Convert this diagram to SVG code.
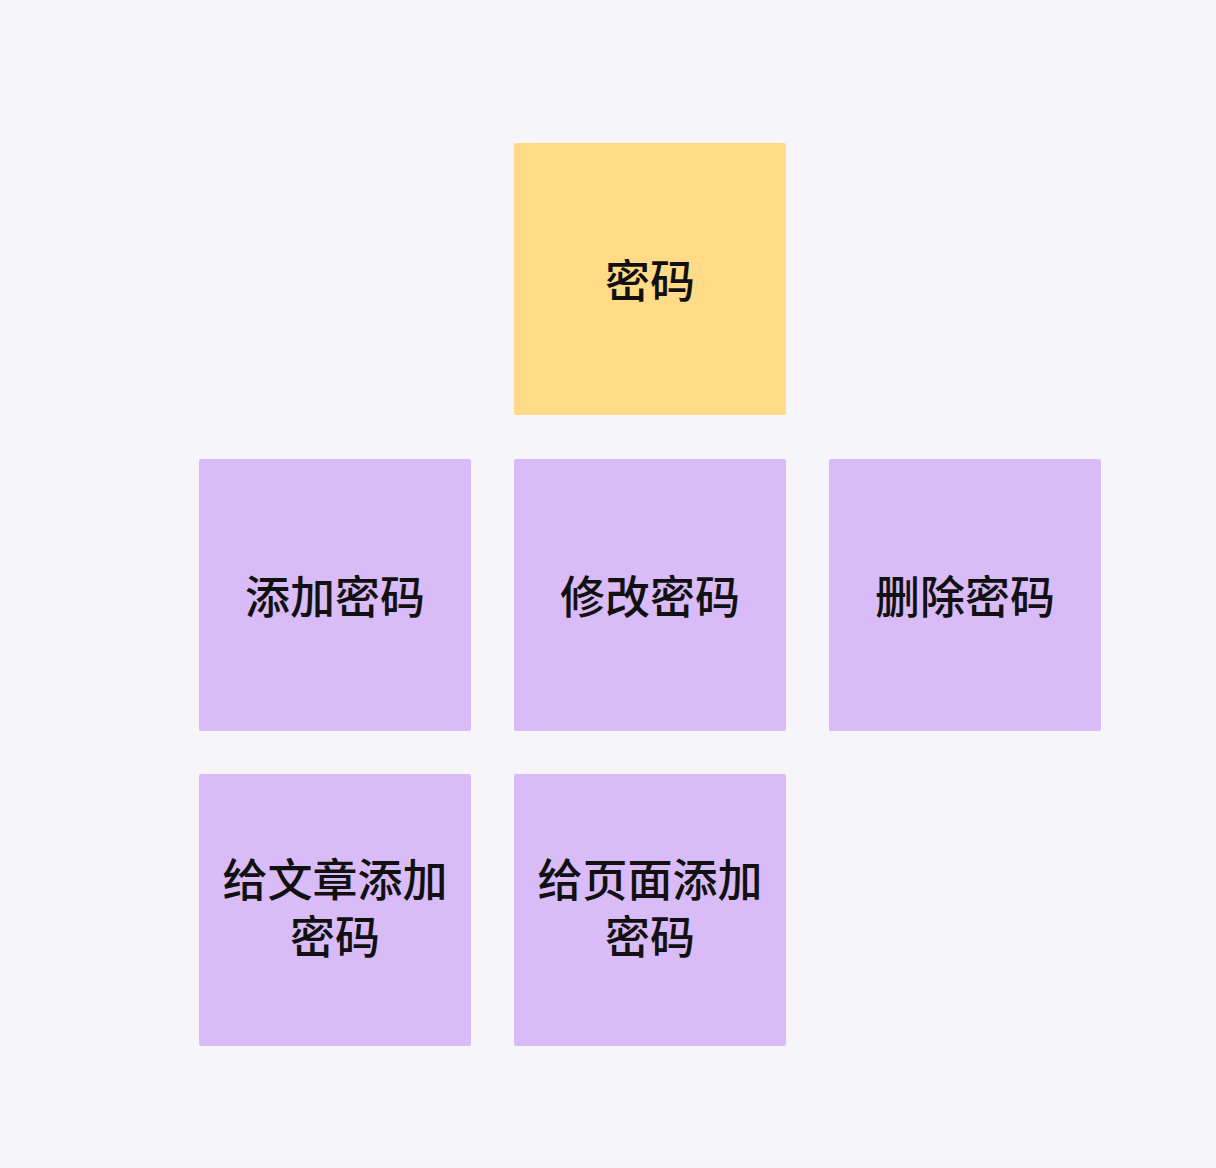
<svg xmlns="http://www.w3.org/2000/svg" width="1216" height="1168" viewBox="0 0 1216 1168">
<style>
.bg{fill:#f6f6fa}
.y{fill:#ffdb88}
.p{fill:#d8bbf7}
text{font-family:"Liberation Sans","Noto Sans CJK SC",sans-serif;font-size:45px;font-weight:500;fill:#111;text-anchor:middle}
</style>
<rect class="bg" x="0" y="0" width="1216" height="1168"/>
<g id="connectors"></g>
<g id="n-mima"><rect class="y" x="514" y="143" width="272" height="272" rx="2"/><text x="650" y="298">密码</text></g>
<g id="n-add"><rect class="p" x="199" y="459" width="272" height="272" rx="2"/><text x="335" y="614">添加密码</text></g>
<g id="n-edit"><rect class="p" x="514" y="459" width="272" height="272" rx="2"/><text x="650" y="614">修改密码</text></g>
<g id="n-del"><rect class="p" x="829" y="459" width="272" height="272" rx="2"/><text x="965" y="614">删除密码</text></g>
<g id="n-article"><rect class="p" x="199" y="774" width="272" height="272" rx="2"/><text x="335" y="897">给文章添加<tspan x="335" dy="57">密码</tspan></text></g>
<g id="n-page"><rect class="p" x="514" y="774" width="272" height="272" rx="2"/><text x="650" y="897">给页面添加<tspan x="650" dy="57">密码</tspan></text></g>
</svg>
